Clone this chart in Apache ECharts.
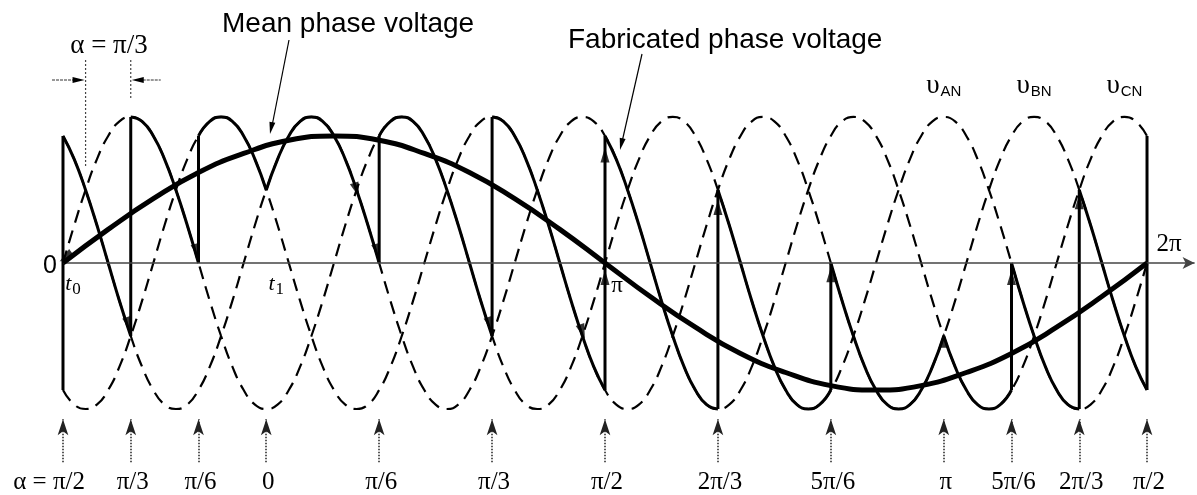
<!DOCTYPE html>
<html><head><meta charset="utf-8">
<script src="https://cdn.jsdelivr.net/npm/echarts@6.0.0/dist/echarts.min.js"></script>
<style>html,body{margin:0;padding:0;background:#fff}#c{width:1197px;height:495px}</style>
</head><body><div id="c"></div>
<script>
// ---- data (x in output-voltage degrees, y in per-unit of supply peak) ----
const sampleStep = 3.75;
const vAN = [0,.26,.5,.71,.87,.97,1,.97,.87,.71,.5,.26,0,-.26,-.5,-.71,-.87,-.97,-1,-.97,-.87,-.71,-.5,-.26,
  0,.26,.5,.71,.87,.97,1,.97,.87,.71,.5,.26,0,-.26,-.5,-.71,-.87,-.97,-1,-.97,-.87,-.71,-.5,-.26,
  0,.26,.5,.71,.87,.97,1,.97,.87,.71,.5,.26,0,-.26,-.5,-.71,-.87,-.97,-1,-.97,-.87,-.71,-.5,-.26,
  0,.26,.5,.71,.87,.97,1,.97,.87,.71,.5,.26,0,-.26,-.5,-.71,-.87,-.97,-1,-.97,-.87,-.71,-.5,-.26,0];
const vBN = [-.87,-.97,-1,-.97,-.87,-.71,-.5,-.26,0,.26,.5,.71,.87,.97,1,.97,.87,.71,.5,.26,0,-.26,-.5,-.71,
  -.87,-.97,-1,-.97,-.87,-.71,-.5,-.26,0,.26,.5,.71,.87,.97,1,.97,.87,.71,.5,.26,0,-.26,-.5,-.71,
  -.87,-.97,-1,-.97,-.87,-.71,-.5,-.26,0,.26,.5,.71,.87,.97,1,.97,.87,.71,.5,.26,0,-.26,-.5,-.71,
  -.87,-.97,-1,-.97,-.87,-.71,-.5,-.26,0,.26,.5,.71,.87,.97,1,.97,.87,.71,.5,.26,0,-.26,-.5,-.71,-.87];
const vCN = [.87,.71,.5,.26,0,-.26,-.5,-.71,-.87,-.97,-1,-.97,-.87,-.71,-.5,-.26,0,.26,.5,.71,.87,.97,1,.97,
  .87,.71,.5,.26,0,-.26,-.5,-.71,-.87,-.97,-1,-.97,-.87,-.71,-.5,-.26,0,.26,.5,.71,.87,.97,1,.97,
  .87,.71,.5,.26,0,-.26,-.5,-.71,-.87,-.97,-1,-.97,-.87,-.71,-.5,-.26,0,.26,.5,.71,.87,.97,1,.97,
  .87,.71,.5,.26,0,-.26,-.5,-.71,-.87,-.97,-1,-.97,-.87,-.71,-.5,-.26,0,.26,.5,.71,.87,.97,1,.97,.87];
const meanStep = 15;
const meanV = [0,.23,.44,.62,.75,.84,.87,.84,.75,.62,.44,.23,0,-.23,-.44,-.62,-.75,-.84,-.87,-.84,-.75,-.62,-.44,-.23,0];
const firingDeg = [0,22.5,45,67.5,105,142.5,180,217.5,255,292.5,315,337.5,360];
const firingPhase = ['C','A','B','C','A','B','C','A','B','C','A','B','C'];
const alphaLabels = ['α = π/2','π/3','π/6','0','π/6','π/3','π/2','2π/3','5π/6','π','5π/6','2π/3','π/2'];
const phaseNames = ['AN','BN','CN'];
const phasePeakDeg = [292.5,322.5,352.5];
// direction arrowheads on the waveforms: [deg, value, rotation]
const arrowMarks = [[0.9,0.04,126],[21.9,-0.42,199],[44.5,0.08,196],[97.5,0.5,199],[104.5,0.08,196],
  [141.9,-0.42,199],[172.5,-0.47,199],[180,-0.1,0],[180,0.74,0],[217.5,0.38,0],[255,-0.08,0],
  [292.5,-0.53,0],[315,-0.1,0],[337.5,0.42,0]];

// ---- build ----
const phases = {A:vAN, B:vBN, C:vCN};
const xs = vAN.map((_, i) => i * sampleStep);
const pairs = arr => arr.map((v, i) => [xs[i], v]);
const idx = d => Math.round(d / sampleStep);

const chart = echarts.init(document.getElementById('c'), null, {renderer:'canvas'});
const series = [];
const dashStyle = {color:'#000', width:2.2, type:[13,8]};
['A','B','C'].forEach(p => series.push({type:'line', data:pairs(phases[p]), smooth:true, showSymbol:false,
  lineStyle:dashStyle, z:2, silent:true}));
// fabricated voltage segments
for (let k = 0; k < firingDeg.length - 1; k++) {
  const arr = phases[firingPhase[k]], seg = [];
  for (let i = idx(firingDeg[k]); i <= idx(firingDeg[k+1]); i++) seg.push([xs[i], arr[i]]);
  series.push({type:'line', data:seg, smooth:true, showSymbol:false, lineStyle:{color:'#000', width:3}, z:4, silent:true});
}
// vertical jumps at firing instants
for (let k = 0; k < firingDeg.length; k++) {
  const prev = phases[firingPhase[(k + firingPhase.length - 2) % (firingPhase.length - 1)]];
  const cur = phases[firingPhase[k]];
  const i = idx(firingDeg[k]);
  if (Math.abs(prev[i] - cur[i]) < 0.01) continue;
  series.push({type:'line', data:[[firingDeg[k], prev[i]], [firingDeg[k], cur[i]]], showSymbol:false,
    lineStyle:{color:'#000', width:3}, z:4, silent:true});
}
// mean phase voltage + axis + bottom arrows (markLines)
const markData = [[{coord:[0,0], symbol:'none'}, {coord:[375.8,0], symbol:'arrow', symbolSize:[9,12],
  lineStyle:{color:'#444', width:1.6, type:'solid'}}]];
firingDeg.forEach(f => markData.push([{coord:[f,-1.365], symbol:'none'}, {coord:[f,-1.07], symbol:'arrow', symbolSize:[8,16],
  lineStyle:{color:'#222', width:1.5, type:'dotted'}}]));
series.push({type:'line', data:meanV.map((v, i) => [i * meanStep, v]), smooth:true, showSymbol:false,
  lineStyle:{color:'#000', width:5}, z:5, silent:true,
  markLine:{silent:true, animation:false, label:{show:false}, symbol:['none','arrow'], data:markData}});
series.push({type:'scatter', data:arrowMarks.map(a => ({value:[a[0], a[1]], symbolRotate:a[2]})),
  symbol:'triangle', symbolSize:[9,15], itemStyle:{color:'#000'}, z:6, silent:true});

chart.setOption({
  animation:false,
  grid:{left:0, right:0, top:0, bottom:0},
  xAxis:{type:'value', min:-20.92, max:376.6, show:false},
  yAxis:{type:'value', min:-1.589, max:1.801, show:false},
  series
});

// ---- annotations ----
const P = (d, v) => chart.convertToPixel({gridIndex:0}, [d, v]);
const serif = "'Liberation Serif','DejaVu Serif',serif";
const sans = "'Liberation Sans',Arial,sans-serif";
function head(x, y, ang, len, w) {
  const bx = x - len*Math.cos(ang), by = y - len*Math.sin(ang);
  const nx = -Math.sin(ang)*w/2, ny = Math.cos(ang)*w/2;
  return {type:'polygon', shape:{points:[[x,y],[bx+nx,by+ny],[bx-nx,by-ny]]}, style:{fill:'#000'}};
}
const g = [];
const txt = (x, y, text, font, align, extra) => g.push({type:'text', x, y, style:Object.assign({text, font, fill:'#000',
  align:align||'center', verticalAlign:'middle'}, extra||{})});

firingDeg.forEach((f, k) => {
  const [px] = P(f, 0);
  if (k === 0) txt(px + 22, 482, alphaLabels[k], '25px ' + serif, 'right');
  else txt(px + 2, 482, alphaLabels[k], '25px ' + serif, 'center');
});
txt(50, 266, '0', '25px ' + sans);
const [p2pi] = P(360, 0);
txt(p2pi + 22, 244, '2π', '25px ' + serif);
const [ppi] = P(180, 0);
txt(ppi + 12, 286, 'π', '23px ' + serif);
// t0, t1
[[0,'0'],[67.5,'1']].forEach(([d, s]) => {
  const [px] = P(d, 0);
  g.push({type:'text', x:px + 10, y:284, style:{text:'{t|t}{s|' + s + '}', align:'center', verticalAlign:'middle',
    rich:{t:{font:'italic 22px ' + serif, fill:'#000'}, s:{font:'17px ' + serif, fill:'#000', padding:[12,0,0,1]}}}});
});
// phase labels
phasePeakDeg.forEach((d, k) => {
  const [px] = P(d, 0);
  g.push({type:'text', x:px, y:86, style:{text:'{u|υ}{s|' + phaseNames[k] + '}', align:'center', verticalAlign:'middle',
    rich:{u:{font:'27px ' + serif, fill:'#000'}, s:{font:'15px ' + sans, fill:'#000', padding:[12,0,0,1]}}}});
});
// titles with leader arrows
txt(222, 24, 'Mean phase voltage', '28px ' + sans, 'left');
g.push({type:'line', shape:{x1:289, y1:40, x2:272, y2:126}, style:{stroke:'#000', lineWidth:1.2}});
g.push(head(270, 134, Math.atan2(94, -19), 12, 6));
txt(568, 40, 'Fabricated phase voltage', '28px ' + sans, 'left');
g.push({type:'line', shape:{x1:642, y1:54, x2:622, y2:142}, style:{stroke:'#000', lineWidth:1.2}});
g.push(head(620, 150, Math.atan2(96, -22), 12, 6));
// alpha = pi/3 dimension
const [pa] = P(7.5, 0), [pb] = P(22.5, 0);
txt(109, 46, 'α = π/3', '27px ' + serif);
g.push({type:'line', shape:{x1:pa, y1:60, x2:pa, y2:166}, style:{stroke:'#444', lineWidth:1.2, lineDash:[2,2]}});
g.push({type:'line', shape:{x1:pb, y1:60, x2:pb, y2:100}, style:{stroke:'#444', lineWidth:1.2, lineDash:[2,2]}});
g.push({type:'line', shape:{x1:52, y1:80, x2:pa - 8, y2:80}, style:{stroke:'#333', lineWidth:1.2, lineDash:[3,1]}});
g.push(head(pa - 1, 80, 0, 12, 6));
g.push({type:'line', shape:{x1:pb + 8, y1:80, x2:pb + 30, y2:80}, style:{stroke:'#333', lineWidth:1.2, lineDash:[3,1]}});
g.push(head(pb + 1, 80, Math.PI, 12, 6));

chart.setOption({graphic:{elements:g.map(e => Object.assign({silent:true, z:10}, e))}});
</script></body></html>
